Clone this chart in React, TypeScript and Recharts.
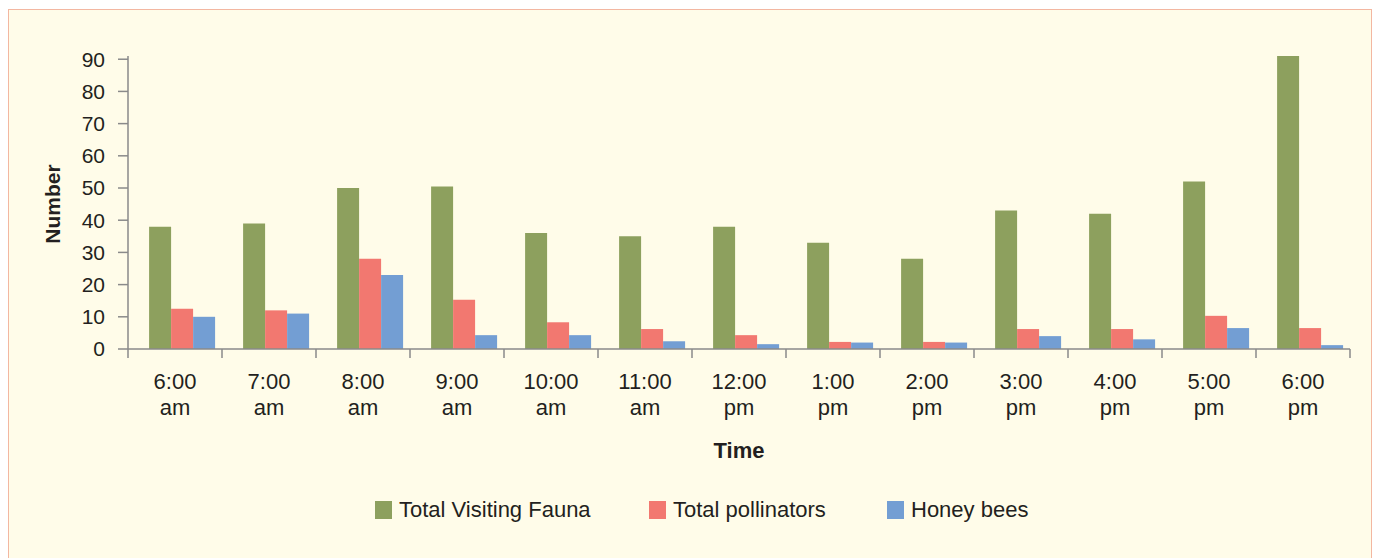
import React from 'react';
import { BarChart, Bar, XAxis, YAxis, Legend, Label } from 'recharts';

// readings taken every hour, 6 am to 6 pm
const times = ['6:00', '7:00', '8:00', '9:00', '10:00', '11:00', '12:00', '1:00', '2:00', '3:00', '4:00', '5:00', '6:00'];
const periods = ['am', 'am', 'am', 'am', 'am', 'am', 'pm', 'pm', 'pm', 'pm', 'pm', 'pm', 'pm'];
const fauna = [38, 39, 50, 50.5, 36, 35, 38, 33, 28, 43, 42, 52, 91];
const pollinators = [12.5, 12, 28, 15.3, 8.3, 6.2, 4.3, 2.2, 2.2, 6.2, 6.2, 10.3, 6.5];
const honeyBees = [10, 11, 23, 4.3, 4.3, 2.4, 1.5, 2, 2, 4, 3, 6.5, 1.2];
const yTicks = [0, 10, 20, 30, 40, 50, 60, 70, 80, 90];

const series = [
  { key: 'fauna', name: 'Total Visiting Fauna', color: '#8da05e', legendWidth: 274 },
  { key: 'pollinators', name: 'Total pollinators', color: '#f27870', legendWidth: 238 },
  { key: 'bees', name: 'Honey bees', color: '#739ed3', legendWidth: 160 },
];

const data = times.map((t, i) => ({
  time: `${t} ${periods[i]}`,
  fauna: fauna[i],
  pollinators: pollinators[i],
  bees: honeyBees[i],
}));

const FONT = '"Liberation Sans", Arial, sans-serif';
const INK = '#231f20';
const AXIS = '#8a8a8a';

// label under each hour plus the tick marks that sit between the hours
const TimeTick = (props: any) => {
  const { x, y, payload, index, visibleTicksCount, width } = props;
  const half = payload && payload.offset ? payload.offset : width / visibleTicksCount / 2;
  const last = index === times.length - 1;
  return (
    <g>
      <line x1={x - half} x2={x - half} y1={y} y2={y + 9} stroke={AXIS} strokeWidth={1.5} />
      {last && <line x1={x + half} x2={x + half} y1={y} y2={y + 9} stroke={AXIS} strokeWidth={1.5} />}
      <text x={x} y={y + 40} textAnchor="middle" fontSize={22} fontFamily={FONT} fill={INK}>
        {times[index]}
      </text>
      <text x={x} y={y + 66} textAnchor="middle" fontSize={22} fontFamily={FONT} fill={INK}>
        {periods[index]}
      </text>
    </g>
  );
};

const NumberLabel = ({ viewBox }: any) => {
  const cx = viewBox.x + 52;
  const cy = 204;
  return (
    <text
      x={cx}
      y={cy}
      transform={`rotate(-90, ${cx}, ${cy})`}
      textAnchor="middle"
      dominantBaseline="central"
      fontSize={21}
      fontWeight="bold"
      fontFamily={FONT}
      fill={INK}
    >
      Number
    </text>
  );
};

const LegendContent = () => (
  <div style={{ display: 'flex', alignItems: 'center', height: 40, paddingLeft: 375, fontFamily: FONT }}>
    {series.map((s) => (
      <div key={s.key} style={{ display: 'flex', alignItems: 'center', width: s.legendWidth }}>
        <span style={{ display: 'inline-block', width: 17, height: 18, background: s.color }} />
        <span style={{ marginLeft: 7, fontSize: 22, color: INK, whiteSpace: 'nowrap' }}>{s.name}</span>
      </div>
    ))}
  </div>
);

export default function App() {
  return (
    <div style={{ position: 'absolute', left: 0, top: 0, width: 1373, height: 558, overflow: 'hidden' }}>
      <div
        style={{
          position: 'absolute',
          left: 8,
          top: 9,
          width: 1362,
          height: 560,
          border: '1.5px solid #f3b7a1',
          background: '#fffce9',
        }}
      />
      <div style={{ position: 'absolute', left: 0, top: 0 }}>
        <BarChart
          width={1373}
          height={558}
          data={data}
          margin={{ top: 56, right: 23, bottom: 28, left: 0 }}
          barCategoryGap="15%"
          barGap={0}
        >
          <XAxis
            xAxisId="axis"
            dataKey="time"
            interval={0}
            axisLine={{ stroke: AXIS, strokeWidth: 1.5 }}
            tickLine={false}
            tickSize={0}
            tickMargin={0}
            tick={<TimeTick />}
            height={141}
          >
            <Label value="Time" position="insideTop" offset={93} fontSize={22} fontWeight="bold" fontFamily={FONT} fill={INK} />
          </XAxis>
          <XAxis xAxisId="bars" dataKey="time" hide height={0} padding={{ left: 7, right: -7 }} />
          <YAxis
            domain={[0, 91]}
            ticks={yTicks}
            interval={0}
            width={128}
            tickSize={10}
            tickMargin={13}
            stroke={AXIS}
            strokeWidth={1.5}
            tick={{ fontSize: 21, fontFamily: FONT, fill: INK }}
            label={<NumberLabel />}
          />
          <Legend verticalAlign="bottom" height={40} content={<LegendContent />} />
          {series.map((s) => (
            <Bar key={s.key} xAxisId="bars" dataKey={s.key} name={s.name} fill={s.color} isAnimationActive={false} />
          ))}
        </BarChart>
      </div>
    </div>
  );
}
